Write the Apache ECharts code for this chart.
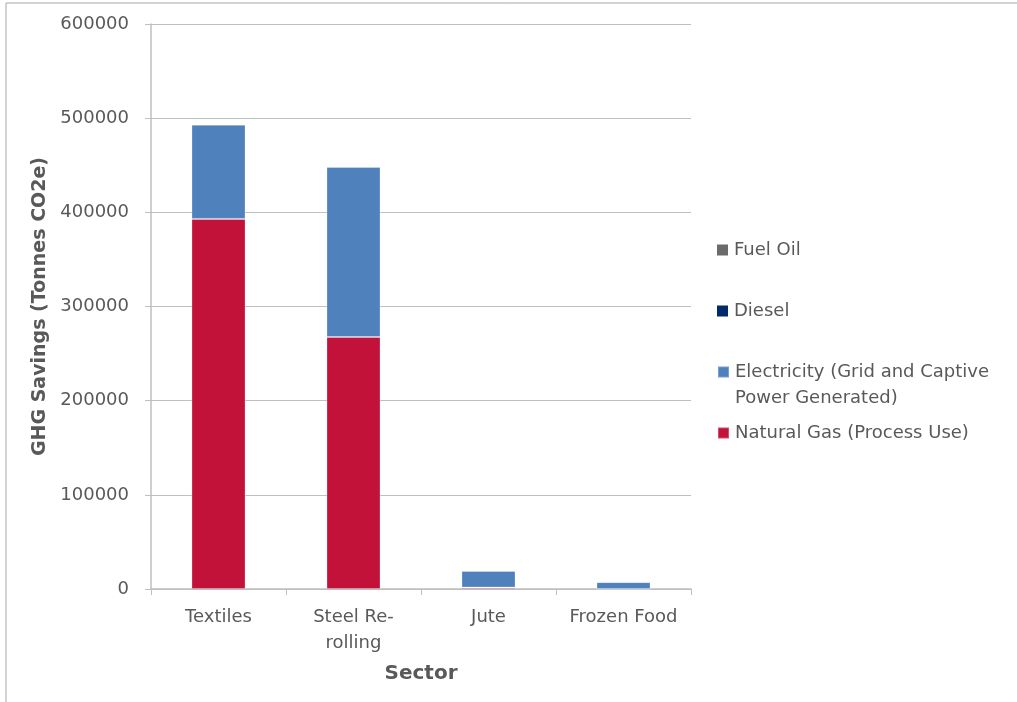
<!DOCTYPE html>
<html>
<head>
<meta charset="utf-8">
<script src="https://cdn.jsdelivr.net/npm/echarts@6/dist/echarts.min.js"></script>
<style>
  html, body { margin: 0; padding: 0; background: #fff; }
  #chart { width: 1017px; height: 702px; }
</style>
</head>
<body>
<div id="chart"></div>
<script>
// 数据
var sectors = ['Textiles', 'Steel Re-\nrolling', 'Jute', 'Frozen Food'];
var naturalGas = [393000, 267600, 1500, 0];
var electricity = [100000, 180500, 17600, 7300];
var diesel = [0, 0, 0, 0];
var fuelOil = [0, 0, 0, 0];
var yTicks = [0, 100000, 200000, 300000, 400000, 500000, 600000];

var textColor = '#595959';
var fontFamily = '"DejaVu Sans", sans-serif';

var dom = document.getElementById('chart');
var myChart = echarts.init(dom);

function legendItem(name, top, twoLines) {
    var item = {
        data: [name],
        orient: 'vertical',
        left: 712,
        top: top,
        itemWidth: 11,
        itemHeight: 11,
        itemGap: 0,
        icon: 'rect',
        selectedMode: false,
        textStyle: { color: textColor, fontSize: 18, fontFamily: fontFamily, lineHeight: 26, padding: [0, 0, 0, 1] }
    };
    // 两行文字时方块对齐第一行
    if (twoLines) {
        item.icon = 'path://M0,0h11v11h-11z M0,37h0.05v0.05h-0.05z';
        item.itemHeight = 37;
    }
    return item;
}

var option = {
    animation: false,
    backgroundColor: '#fff',
    graphic: [{
        type: 'polyline',
        shape: { points: [[6, 702], [6, 3], [1017, 3]] },
        style: { stroke: '#a6a6a6', lineWidth: 1, fill: null }
    }],
    legend: [
        legendItem('Fuel Oil', 232),
        legendItem('Diesel', 293),
        legendItem('Electricity (Grid and Captive\nPower Generated)', 354, true),
        legendItem('Natural Gas (Process Use)', 415)
    ],
    grid: { left: 151, right: 326, top: 24, bottom: 113 },
    xAxis: {
        type: 'category',
        data: sectors,
        name: 'Sector',
        nameLocation: 'middle',
        nameGap: 75,
        nameTextStyle: { color: textColor, fontSize: 20, fontWeight: 'bold', fontFamily: fontFamily },
        axisLine: { lineStyle: { color: '#bfbfbf', width: 1.5 } },
        axisTick: { show: true, interval: 0, length: 6, lineStyle: { color: '#bfbfbf' } },
        axisLabel: { interval: 0, color: textColor, fontSize: 18, fontFamily: fontFamily, margin: 15, lineHeight: 26 }
    },
    yAxis: {
        type: 'value',
        min: yTicks[0],
        max: yTicks[yTicks.length - 1],
        interval: 100000,
        name: 'GHG Savings (Tonnes CO2e)',
        nameLocation: 'middle',
        nameGap: 100,
        nameTextStyle: { color: textColor, fontSize: 19, fontWeight: 'bold', fontFamily: fontFamily },
        axisLine: { show: true, lineStyle: { color: '#bfbfbf', width: 1.5 } },
        axisTick: { show: true, length: 6, lineStyle: { color: '#bfbfbf' } },
        axisLabel: {
            color: textColor, fontSize: 18, fontFamily: fontFamily, margin: 22,
            formatter: function (v) { return String(v); }
        },
        splitLine: { lineStyle: { color: '#bfbfbf', width: 1 } }
    },
    series: [
        {
            name: 'Natural Gas (Process Use)', type: 'bar', stack: 'total', barWidth: '40%',
            data: naturalGas, itemStyle: { color: '#c2123a', borderColor: 'rgba(255,255,255,0.25)', borderWidth: 1 }
        },
        {
            name: 'Electricity (Grid and Captive\nPower Generated)', type: 'bar', stack: 'total', barWidth: '40%',
            data: electricity, itemStyle: { color: '#4f81bd', borderColor: 'rgba(255,255,255,0.25)', borderWidth: 1 }
        },
        {
            name: 'Diesel', type: 'bar', stack: 'total', barWidth: '40%',
            data: diesel, itemStyle: { color: '#002a6b' }
        },
        {
            name: 'Fuel Oil', type: 'bar', stack: 'total', barWidth: '40%',
            data: fuelOil, itemStyle: { color: '#6b6b6e' }
        }
    ]
};

if (option && typeof option === "object") {
    myChart.setOption(option, true);
}
</script>
</body>
</html>
